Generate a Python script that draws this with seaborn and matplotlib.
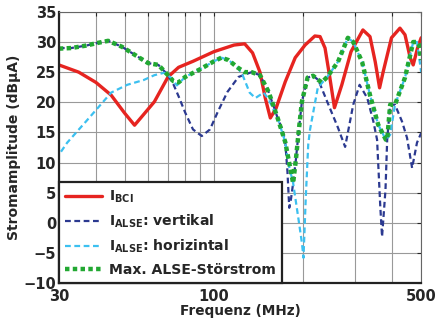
import matplotlib
matplotlib.use("Agg")
import matplotlib.pyplot as plt
import matplotlib.ticker as mticker
import seaborn as sns

# I_BCI
f_bci = [30, 35, 40, 45, 50, 54, 58, 63, 70, 76, 85, 100, 117, 127, 135, 143, 149, 155,
         162, 174, 188, 203, 219, 228, 237, 246, 255, 270, 290, 318, 336, 350, 362, 372,
         397, 424, 441, 459, 470, 486, 500]
v_bci = [26.2, 25.0, 23.3, 21.2, 18.2, 16.2, 18.0, 20.1, 24.2, 25.8, 26.8, 28.4, 29.5, 29.7,
         28.2, 25.0, 20.7, 17.4, 19.0, 23.4, 27.4, 29.5, 31.0, 30.9, 29.0, 24.1, 19.1, 22.9,
         28.4, 32.0, 30.9, 26.7, 22.4, 25.0, 30.7, 32.3, 31.2, 27.4, 26.2, 29.0, 30.7]

# I_ALSE vertikal
f_vert = [30, 33, 37, 41, 44, 49, 54, 60, 65, 70, 73, 76, 80, 85, 91, 97, 103, 111, 121, 134,
          143, 153, 164, 170, 174, 177, 179.5, 182, 185, 189, 193, 198, 207, 216, 225, 241,
          262, 277, 295, 310, 329, 345, 355, 364, 369, 379, 384, 393, 408, 431, 448, 466, 484, 500]
v_vert = [29.0, 29.0, 29.4, 29.9, 30.2, 29.2, 27.9, 26.5, 26.2, 24.5, 23.0, 21.0, 18.3, 15.5,
          14.4, 15.5, 18.4, 21.7, 24.2, 25.0, 24.5, 21.7, 17.4, 15.5, 13.5, 8.5, 2.5, 4.0, 6.6,
          10.5, 15.0, 20.1, 24.1, 24.4, 23.7, 20.1, 15.8, 12.6, 19.6, 22.9, 20.7, 16.8, 13.8,
          2.7, -2.3, 5.5, 13.8, 19.6, 19.6, 16.8, 14.1, 9.1, 13.3, 14.9]

# I_ALSE horizintal
f_hor = [30.5, 32, 37, 42, 45, 51, 58, 63, 68, 72, 75, 80, 90, 100, 106, 112, 120, 125, 132,
         138, 147, 153, 164, 174, 178, 185, 193, 198, 200.5, 204, 208, 211, 224, 241, 262, 283,
         295, 316, 336, 358, 380, 393, 408, 441, 470, 484, 500]
v_hor = [11.8, 13.3, 16.8, 19.9, 21.6, 22.9, 23.7, 24.5, 24.9, 24.0, 22.8, 24.2, 25.5, 26.8,
         27.4, 27.0, 25.8, 24.5, 21.6, 20.7, 21.6, 20.5, 17.4, 13.4, 10.0, 6.6, 0.5, -3.3, -5.8,
         4.0, 13.0, 15.5, 22.4, 24.2, 26.7, 30.7, 30.0, 26.7, 21.2, 16.3, 13.8, 14.6, 19.6,
         24.1, 30.0, 30.0, 25.0]

# Max. ALSE-Störstrom
f_max = [30, 33, 37, 41, 44, 49, 54, 60, 65, 70, 73, 76, 80, 90, 100, 106, 112, 120, 127, 134,
         143, 153, 164, 174, 180, 185, 189, 193, 198, 207, 216, 225, 231, 241, 262, 283, 295,
         316, 336, 358, 380, 384, 393, 408, 441, 470, 484, 492, 500]
v_max = [28.9, 29.0, 29.4, 29.9, 30.2, 29.2, 27.9, 26.5, 26.2, 24.5, 23.5, 23.3, 24.2, 25.5,
         26.8, 27.4, 27.0, 25.8, 25.0, 25.0, 24.5, 21.7, 17.4, 13.4, 9.6, 6.6, 10.5, 15.0, 20.1,
         24.1, 24.4, 23.7, 23.3, 24.2, 26.7, 30.7, 30.0, 26.7, 21.2, 16.3, 13.8, 13.8, 19.6,
         19.6, 24.1, 30.0, 30.0, 29.5, 27.0]

labels = ["I$_{BCI}$", "I$_{ALSE}$: vertikal", "I$_{ALSE}$: horizintal", "Max. ALSE-Störstrom"]
x_ticks = [30, 100, 500]
y_ticks = list(range(-10, 40, 5))

sns.set_style("white")
plt.rcParams["font.family"] = ["DejaVu Sans"]
plt.rcParams["font.weight"] = "bold"
plt.rcParams["mathtext.default"] = "bf"

fig = plt.figure(figsize=(4.36, 3.21), dpi=100)
ax = fig.add_axes([0.135, 0.118, 0.831, 0.845])

sns.lineplot(x=f_bci, y=v_bci, ax=ax, color="#e62420", lw=2.4, label=labels[0], errorbar=None)
sns.lineplot(x=f_vert, y=v_vert, ax=ax, color="#2b3990", lw=1.6, linestyle=(0, (2.6, 1.6)),
             label=labels[1], errorbar=None)
sns.lineplot(x=f_hor, y=v_hor, ax=ax, color="#3cc0f0", lw=1.6, linestyle=(0, (2.6, 1.6)),
             label=labels[2], errorbar=None)
sns.lineplot(x=f_max, y=v_max, ax=ax, color="#22a832", lw=3.2, linestyle=(0, (1, 0.75)),
             label=labels[3], errorbar=None)

ax.set_xscale("log")
ax.set_xlim(30, 500)
ax.set_ylim(-10, 35)
ax.xaxis.set_major_locator(mticker.FixedLocator(x_ticks))
ax.xaxis.set_major_formatter(mticker.FixedFormatter([str(t) for t in x_ticks]))
ax.xaxis.set_minor_locator(mticker.FixedLocator([40, 50, 60, 70, 80, 90, 200, 300, 400]))
ax.xaxis.set_minor_formatter(mticker.NullFormatter())
ax.set_yticks(y_ticks)

ax.grid(True, which="both", axis="x", color="#999999", lw=0.8)
ax.grid(True, which="major", axis="y", color="#999999", lw=0.8)
ax.tick_params(which="both", direction="in", top=True, right=True, length=3, width=0.8,
               labelsize=10.5, pad=2)
ax.tick_params(axis="x", pad=4)
for lab in ax.get_xticklabels() + ax.get_yticklabels():
    lab.set_fontweight("bold")
for s in ["left", "bottom"]:
    ax.spines[s].set_linewidth(1.6)
    ax.spines[s].set_color("#222222")
for s in ["top", "right"]:
    ax.spines[s].set_linewidth(0.8)
    ax.spines[s].set_color("#666666")

ax.set_xlabel("Frequenz (MHz)", fontsize=9.8, fontweight="bold", labelpad=0)
ax.set_ylabel("Stromamplitude (dBµA)", fontsize=10, fontweight="bold", labelpad=2)

leg = ax.legend(loc="lower left", bbox_to_anchor=(0, 0), borderaxespad=0, fancybox=False,
                framealpha=1, edgecolor="#222222", fontsize=10.1, handlelength=2.6,
                labelspacing=0.55, borderpad=0.45, handletextpad=0.5)
leg.get_frame().set_linewidth(1.6)
for t in leg.get_texts():
    t.set_fontweight("bold")

fig.savefig("out.png", dpi=100)
